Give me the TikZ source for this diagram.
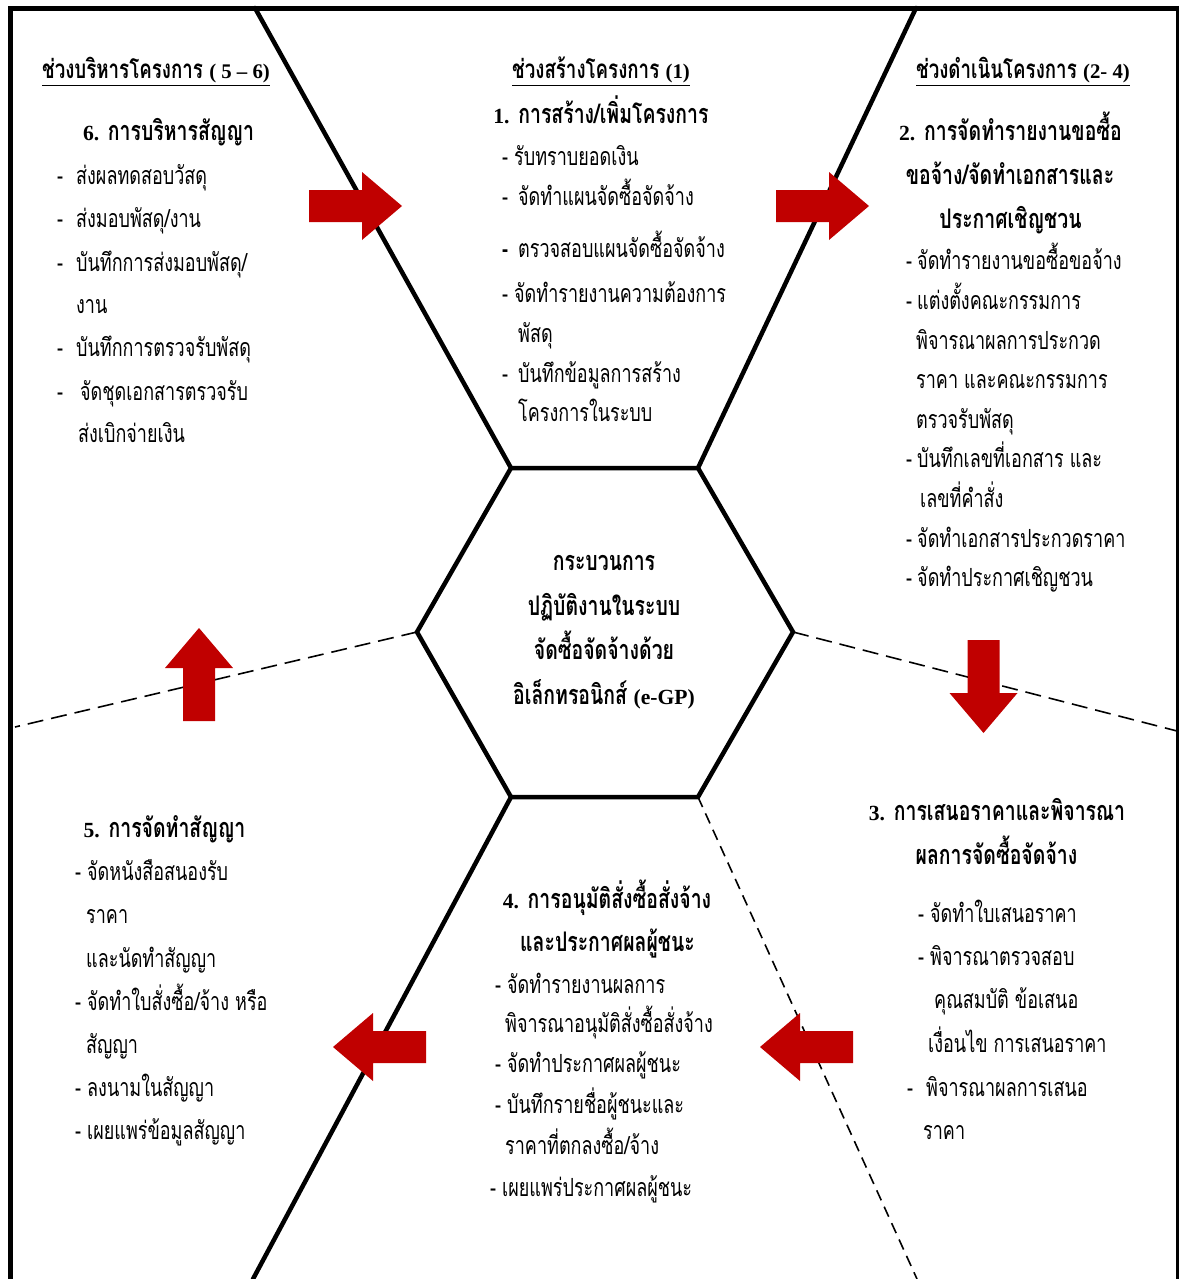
\documentclass[tikz,border=0pt]{standalone}
\usepackage{fontspec}
\newfontfamily\thai[Script=Thai,FakeStretch=0.72]{Loma}
\newfontfamily\lat[Scale=0.8]{Liberation Serif}
\definecolor{arrowred}{RGB}{192,0,0}
\newcommand\dsh[1]{\makebox[#1pt][l]{-}}
\tikzset{
  body/.style={font=\thai\fontsize{25}{30}\selectfont, anchor=base west, inner sep=0pt},
  head/.style={font=\thai\bfseries\fontsize{27}{30}\selectfont, anchor=base, inner sep=0pt},
  sect/.style={font=\thai\bfseries\fontsize{26}{30}\selectfont, anchor=base, inner sep=0pt},
  thick line/.style={line width=4.5pt, line cap=round, line join=miter},
  frame line/.style={line width=5pt},
  dash line/.style={line width=1.6pt, dash pattern=on 16pt off 8pt},
  dash line2/.style={line width=1.6pt, dash pattern=on 11pt off 7pt},
  blockarrow/.pic={\fill[arrowred] (-46.5,-16) -- (6.5,-16) -- (6.5,-34) -- (46.5,0) -- (6.5,34) -- (6.5,16) -- (-46.5,16) -- cycle;}
}
\begin{document}
\begin{tikzpicture}[x=1pt,y=-1pt]
\useasboundingbox (0,0) rectangle (1180,1279);
% frame
\draw[frame line] (10.5,1279) -- (10.5,8.5) -- (1177.5,8.5);
\draw[line width=3pt] (1177,6) -- (1177,1279);
% hexagon
\coordinate (hTL) at (511,468);
\coordinate (hTR) at (698,468);
\coordinate (hR) at (793,632);
\coordinate (hBR) at (698,797);
\coordinate (hBL) at (511,797);
\coordinate (hL) at (417,632);
\coordinate (eTL) at (255,8);
\coordinate (eTR) at (916,8);
\coordinate (eBL) at (253,1279);
\coordinate (eBR) at (917,1279);
\coordinate (eL) at (15,727);
\coordinate (eR) at (1177,731);
\draw[thick line] (hTL) -- (hTR) -- (hR) -- (hBR) -- (hBL) -- (hL) -- cycle;
\draw[thick line] (hTL) -- (eTL);
\draw[thick line] (hTR) -- (eTR);
\draw[thick line] (hBL) -- (eBL);
\draw[dash line] (hL) -- (eL);
\draw[dash line] (hR) -- (eR);
\draw[dash line2] (hBR) -- (eBR);
% arrows
\pic at (355.5,206) {blockarrow};
\pic at (822.5,206) {blockarrow};
\pic[rotate=-90] at (983.5,686.5) {blockarrow};
\pic[rotate=180] at (806.5,1047) {blockarrow};
\pic[rotate=180] at (379.5,1047) {blockarrow};
\pic[rotate=90] at (199,674.5) {blockarrow};
% centre
\node[head] (c1) at (604,570) {กระบวนการ};
\node[head] (c2) at (604,615) {ปฏิบัติงานในระบบ};
\node[head] (c3) at (604,659) {จัดซื้อจัดจ้างด้วย};
\node[head] (c4) at (604,704) {อิเล็กทรอนิกส์ {\lat (e-GP)}};
% top-left block
\node[sect] (s1) at (156,79) {\underline{ช่วงบริหารโครงการ {\lat ( 5 – 6)}}};
\node[head] (t6) at (168.5,140) {{\lat 6.} การบริหารสัญญา};
\node[body] (a1) at (57,184) {\dsh{19}ส่งผลทดสอบวัสดุ};
\node[body] (a2) at (57,227) {\dsh{19}ส่งมอบพัสดุ/งาน};
\node[body] (a3) at (57,271) {\dsh{19}บันทึกการส่งมอบพัสดุ/};
\node[body] (a4) at (76,313) {งาน};
\node[body] (a5) at (57,356) {\dsh{19}บันทึกการตรวจรับพัสดุ};
\node[body] (a6) at (57,400) {\dsh{23}จัดชุดเอกสารตรวจรับ};
\node[body] (a7) at (78,442) {ส่งเบิกจ่ายเงิน};
% top-centre block
\node[sect] (s2) at (601,79) {\underline{ช่วงสร้างโครงการ {\lat (1)}}};
\node[head] (t1) at (601,124) {{\lat 1.} การสร้าง/เพิ่มโครงการ};
\node[body] (b1) at (502,165) {\dsh{12}รับทราบยอดเงิน};
\node[body] (b2) at (502,205) {\dsh{16}จัดทำแผนจัดซื้อจัดจ้าง};
\node[body] (b3) at (502,257) {\makebox[16pt][l]{\bfseries -}ตรวจสอบแผนจัดซื้อจัดจ้าง};
\node[body] (b4) at (502,302) {\dsh{12}จัดทำรายงานความต้องการ};
\node[body] (b5) at (518,342) {พัสดุ};
\node[body] (b6) at (502,382) {\dsh{16}บันทึกข้อมูลการสร้าง};
\node[body] (b7) at (518,421) {โครงการในระบบ};
% top-right block
\node[sect] (s3) at (1023,79) {\underline{ช่วงดำเนินโครงการ {\lat (2- 4)}}};
\node[head] (t2a) at (1010.5,140) {{\lat 2.} การจัดทำรายงานขอซื้อ};
\node[head] (t2b) at (1010,184) {ขอจ้าง/จัดทำเอกสารและ};
\node[head] (t2c) at (1010.5,228) {ประกาศเชิญชวน};
\node[body] (d1) at (906,269) {\dsh{11}จัดทำรายงานขอซื้อขอจ้าง};
\node[body] (d2) at (906,309) {\dsh{11}แต่งตั้งคณะกรรมการ};
\node[body] (d3) at (916,349) {พิจารณาผลการประกวด};
\node[body] (d4) at (916,388) {ราคา และคณะกรรมการ};
\node[body] (d5) at (916,428) {ตรวจรับพัสดุ};
\node[body] (d6) at (906,467) {\dsh{11}บันทึกเลขที่เอกสาร และ};
\node[body] (d7) at (920,507) {เลขที่คำสั่ง};
\node[body] (d8) at (906,547) {\dsh{11}จัดทำเอกสารประกวดราคา};
\node[body] (d9) at (906,586) {\dsh{11}จัดทำประกาศเชิญชวน};
% bottom-right block
\node[head] (t3a) at (997,820) {{\lat 3.} การเสนอราคาและพิจารณา};
\node[head] (t3b) at (996.5,864) {ผลการจัดซื้อจัดจ้าง};
\node[body] (e1) at (918,922) {\dsh{12}จัดทำใบเสนอราคา};
\node[body] (e2) at (918,965) {\dsh{12}พิจารณาตรวจสอบ};
\node[body] (e3) at (934,1008) {คุณสมบัติ ข้อเสนอ};
\node[body] (e4) at (928,1052) {เงื่อนไข การเสนอราคา};
\node[body] (e5) at (907,1096) {\dsh{19}พิจารณาผลการเสนอ};
\node[body] (e6) at (923,1139) {ราคา};
% bottom-centre block
\node[head] (t4a) at (607,908) {{\lat 4.} การอนุมัติสั่งซื้อสั่งจ้าง};
\node[head] (t4b) at (607.5,951) {และประกาศผลผู้ชนะ};
\node[body] (f1) at (495,993) {\dsh{12}จัดทำรายงานผลการ};
\node[body] (f2) at (505,1032) {พิจารณาอนุมัติสั่งซื้อสั่งจ้าง};
\node[body] (f3) at (495,1072) {\dsh{12}จัดทำประกาศผลผู้ชนะ};
\node[body] (f4) at (495,1113) {\dsh{12}บันทึกรายชื่อผู้ชนะและ};
\node[body] (f5) at (505,1154) {ราคาที่ตกลงซื้อ/จ้าง};
\node[body] (f6) at (490,1196) {\dsh{12}เผยแพร่ประกาศผลผู้ชนะ};
% bottom-left block
\node[head] (t5) at (164.5,837) {{\lat 5.} การจัดทำสัญญา};
\node[body] (g1) at (75,880) {\dsh{12}จัดหนังสือสนองรับ};
\node[body] (g2) at (86,923) {ราคา};
\node[body] (g3) at (86,967) {และนัดทำสัญญา};
\node[body] (g4) at (75,1010) {\dsh{12}จัดทำใบสั่งซื้อ/จ้าง หรือ};
\node[body] (g5) at (86,1053) {สัญญา};
\node[body] (g6) at (75,1096) {\dsh{12}ลงนามในสัญญา};
\node[body] (g7) at (75,1139) {\dsh{12}เผยแพร่ข้อมูลสัญญา};
\end{tikzpicture}
\end{document}
